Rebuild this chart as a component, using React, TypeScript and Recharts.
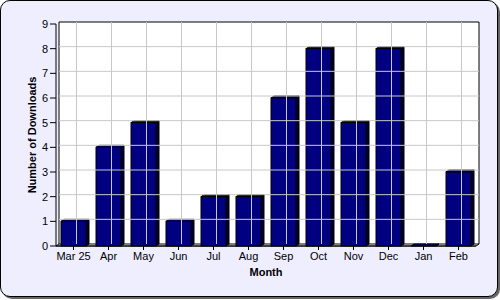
import React from 'react';
import { ComposedChart, Bar, XAxis, YAxis, ReferenceArea, ReferenceLine } from 'recharts';

const months = ['Mar 25', 'Apr', 'May', 'Jun', 'Jul', 'Aug', 'Sep', 'Oct', 'Nov', 'Dec', 'Jan', 'Feb'];
const downloads = [1, 4, 5, 1, 2, 2, 6, 8, 5, 8, 0, 3];
const yTicks = [0, 1, 2, 3, 4, 5, 6, 7, 8, 9];

const data = months.map((month, i) => ({ month, downloads: downloads[i] }));

// 3D depth of the plot
const DX = 3;
const DY = 2;
const FONT = '"Liberation Sans", Arial, sans-serif';

const Bar3D = (props: any) => {
    const { x, y, width, height } = props;
    if (x == null || y == null) return null;
    const h = Math.max(0, height);
    const top = `${x},${y} ${x + DX},${y - DY} ${x + width + DX},${y - DY} ${x + width},${y}`;
    const side = `${x + width},${y} ${x + width + DX},${y - DY} ${x + width + DX},${y + h - DY} ${x + width},${y + h}`;
    return (
        <g>
            <polygon points={side} fill="#000030" stroke="#000" strokeWidth={1} />
            <polygon points={top} fill="#000080" stroke="#000" strokeWidth={1} />
            {h > 0 && <rect x={x} y={y} width={width} height={h} fill="#000080" stroke="#000" strokeWidth={1} />}
        </g>
    );
};

const BackWall = (props: any) => {
    const { x, y, width, height } = props;
    return <rect x={x + DX} y={y - DY} width={width} height={height} fill="#fff" />;
};

const WallFrame = (props: any) => {
    const { x, y, width, height } = props;
    const b = y + height;
    const r = x + width;
    return (
        <g>
            <polygon points={`${x},${b} ${x + DX},${b - DY} ${r + DX},${b - DY} ${r},${b}`} fill="#fff" stroke="#000" strokeWidth={1} />
            <polyline points={`${x + DX},${b - DY} ${x + DX},${y - DY} ${r + DX},${y - DY} ${r + DX},${b - DY}`} fill="none" stroke="#000" strokeWidth={1} />
        </g>
    );
};

const GridLine = (props: any) => (
    <line
        x1={props.x1 + DX}
        y1={props.y1 - DY}
        x2={props.x2 + DX}
        y2={props.y2 - DY}
        stroke="#c8c8c8"
        strokeWidth={1}
    />
);

export default function App() {
    return (
        <div style={{ position: 'absolute', left: 0, top: 0, width: 500, height: 300 }}>
            <style>{'body{margin:0}'}</style>
            <div
                style={{
                    position: 'absolute',
                    left: 0,
                    top: 0,
                    width: 496,
                    height: 295,
                    background: '#eeeeff',
                    border: '1px solid #000',
                    borderRadius: 10,
                    boxShadow: '2px 2px 0 #666',
                }}
            />
            <div style={{ position: 'absolute', left: 0, top: 0 }}>
                <ComposedChart
                    width={500}
                    height={300}
                    data={data}
                    margin={{ top: 24, right: 24, bottom: 0, left: 0 }}
                    barSize={25}
                >
                    <ReferenceArea y1={0} y2={9} shape={BackWall} ifOverflow="visible" />
                    {yTicks.slice(1, -1).map((t) => (
                        <ReferenceLine key={`y${t}`} y={t} shape={GridLine} ifOverflow="visible" />
                    ))}
                    {months.map((m) => (
                        <ReferenceLine key={`x${m}`} x={m} shape={GridLine} ifOverflow="visible" />
                    ))}
                    <ReferenceArea y1={0} y2={9} shape={WallFrame} ifOverflow="visible" />
                    <XAxis
                        dataKey="month"
                        interval={0}
                        height={54}
                        tickSize={4}
                        stroke="#000"
                        tick={{ fill: '#000', fontSize: 11, fontFamily: FONT }}
                        label={{ value: 'Month', position: 'insideTop', offset: 22, fill: '#000', fontSize: 11, fontWeight: 'bold', fontFamily: FONT }}
                    />
                    <YAxis
                        width={56}
                        domain={[0, 9]}
                        ticks={yTicks}
                        interval={0}
                        tickSize={6}
                        stroke="#000"
                        tick={{ fill: '#000', fontSize: 11, fontFamily: FONT }}
                        label={{ value: 'Number of Downloads', angle: -90, position: 'center', dx: 4, fill: '#000', fontSize: 11, fontWeight: 'bold', fontFamily: FONT }}
                    />
                    <Bar dataKey="downloads" shape={Bar3D} isAnimationActive={false} minPointSize={0} />
                </ComposedChart>
            </div>
        </div>
    );
}
